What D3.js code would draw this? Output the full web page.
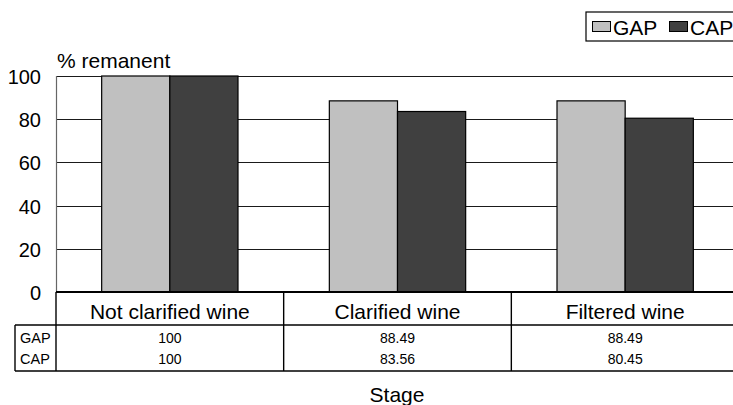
<!DOCTYPE html>
<html><head><meta charset="utf-8">
<script src="https://cdn.jsdelivr.net/npm/d3@7"></script>
<style>body{margin:0;background:#fff;overflow:hidden}svg{display:block;font-family:"Liberation Sans",Arial,sans-serif}</style>
</head><body><svg id="c" width="733" height="405"></svg>
<script>
const categories = ["Not clarified wine","Clarified wine","Filtered wine"];
const seriesNames = ["GAP","CAP"];
const gapValues = [100, 88.49, 88.49];
const capValues = [100, 83.56, 80.45];
const gapLabels = ["100","88.49","88.49"];
const capLabels = ["100","83.56","80.45"];
const yTicks = [0,20,40,60,80,100];
const colors = {GAP:"#c0c0c0", CAP:"#404040"};

(function(){
const svg = d3.select("#c");
const pLeft = 56, pRight = 739, pTop = 76, pBottom = 292;
const x = d3.scaleBand().domain(categories).range([pLeft,pRight]).paddingInner(0).paddingOuter(0);
const inner = d3.scaleBand().domain(seriesNames).range([0,x.bandwidth()]).paddingInner(0).paddingOuter(0.67);
const y = d3.scaleLinear().domain([0,100]).range([pBottom,pTop]);

// gridlines
svg.append("g").selectAll("line").data(yTicks.filter(d=>d>0)).join("line")
  .attr("x1",pLeft).attr("x2",733).attr("y1",d=>Math.round(y(d))+0.5).attr("y2",d=>Math.round(y(d))+0.5)
  .attr("stroke","#1a1a1a").attr("stroke-width",1.2);
// y axis line
svg.append("line").attr("x1",pLeft+0.5).attr("x2",pLeft+0.5).attr("y1",pTop).attr("y2",pBottom)
  .attr("stroke","#666").attr("stroke-width",1.2);
// y tick labels
svg.append("g").selectAll("text").data(yTicks).join("text")
  .attr("x",41).attr("y",d=>y(d)+8).attr("text-anchor","end")
  .attr("font-size",20).attr("fill","#000").text(d=>d);
svg.append("text").attr("x",57).attr("y",68).attr("font-size",21).text("% remanent");

// bars
const data = categories.map((c,i)=>({c, vals:[{s:"GAP",v:gapValues[i]},{s:"CAP",v:capValues[i]}]}));
const g = svg.append("g").selectAll("g").data(data).join("g").attr("transform",d=>`translate(${x(d.c)},0)`);
g.selectAll("rect").data(d=>d.vals).join("rect")
  .attr("x",d=>inner(d.s)).attr("width",inner.bandwidth())
  .attr("y",d=>y(d.v)).attr("height",d=>y(0)-y(d.v))
  .attr("fill",d=>colors[d.s]).attr("stroke","#000").attr("stroke-width",1.2);

// table
const rowTop = pBottom, rowMid = 325, rowBot = 371, tblLeft = 15;
const T = svg.append("g").attr("stroke","#000").attr("stroke-width",1.4);
T.append("line").attr("x1",pLeft).attr("x2",733).attr("y1",rowTop).attr("y2",rowTop).attr("stroke-width",1.8);
T.append("line").attr("x1",tblLeft).attr("x2",733).attr("y1",rowMid).attr("y2",rowMid);
T.append("line").attr("x1",tblLeft).attr("x2",733).attr("y1",rowBot).attr("y2",rowBot);
T.append("line").attr("x1",tblLeft).attr("x2",tblLeft).attr("y1",rowMid).attr("y2",rowBot);
T.append("line").attr("x1",pLeft).attr("x2",pLeft).attr("y1",rowTop).attr("y2",rowBot);
T.selectAll("line.v").data(categories.slice(1)).join("line").attr("class","v")
  .attr("x1",d=>x(d)).attr("x2",d=>x(d)).attr("y1",rowTop).attr("y2",rowBot);
svg.append("g").selectAll("text").data(categories).join("text")
  .attr("x",d=>x(d)+x.bandwidth()/2).attr("y",319).attr("text-anchor","middle")
  .attr("font-size",21).text(d=>d);
svg.append("g").selectAll("text").data(categories).join("text")
  .attr("x",d=>x(d)+x.bandwidth()/2).attr("y",343).attr("text-anchor","middle")
  .attr("font-size",14).text((d,i)=>gapLabels[i]);
svg.append("g").selectAll("text").data(categories).join("text")
  .attr("x",d=>x(d)+x.bandwidth()/2).attr("y",364).attr("text-anchor","middle")
  .attr("font-size",14).text((d,i)=>capLabels[i]);
svg.append("text").attr("x",20).attr("y",343).attr("font-size",14.5).text("GAP");
svg.append("text").attr("x",20).attr("y",364).attr("font-size",14.5).text("CAP");
svg.append("text").attr("x",397).attr("y",402).attr("text-anchor","middle").attr("font-size",21).text("Stage");

// legend
const L = svg.append("g");
L.append("rect").attr("x",586).attr("y",12).attr("width",150).attr("height",29).attr("fill","#fff").attr("stroke","#000").attr("stroke-width",1.2);
const li = L.selectAll("g").data(seriesNames).join("g").attr("transform",(d,i)=>`translate(${592+i*77},0)`);
li.append("rect").attr("x",0.5).attr("y",21.5).attr("width",18).attr("height",10).attr("fill",d=>colors[d]).attr("stroke","#000");
li.append("text").attr("x",21).attr("y",35).attr("font-size",21).text(d=>d);
})();
</script></body></html>
